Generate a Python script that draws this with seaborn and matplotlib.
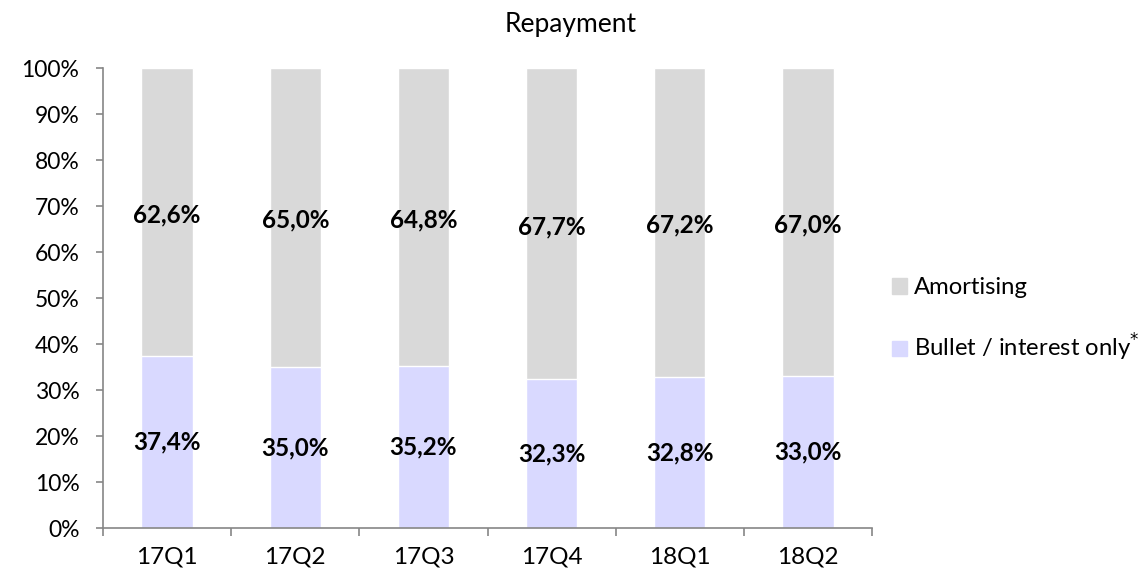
import pandas as pd
import numpy as np
import seaborn as sns
import matplotlib.pyplot as plt
from matplotlib.patches import Patch

quarters = ['17Q1', '17Q2', '17Q3', '17Q4', '18Q1', '18Q2']
bullet = [37.4, 35.0, 35.2, 32.3, 32.8, 33.0]
amortising = [62.6, 65.0, 64.8, 67.7, 67.2, 67.0]

sns.set_style('white')
plt.rcParams['font.family'] = ['Lato', 'DejaVu Sans']
plt.rcParams['text.color'] = 'black'

gray = '#d9d9d9'
lav = '#d9d9ff'
axis_col = '#868686'

df = pd.DataFrame({'quarter': quarters, 'bullet': bullet, 'amortising': amortising})
df['total'] = df['bullet'] + df['amortising']

fig = plt.figure(figsize=(11.45, 5.75), dpi=100)
ax = fig.add_axes([0.09, 0.0817, 0.6716, 0.80])

sns.barplot(data=df, x='quarter', y='total', color=gray, width=0.4, saturation=1, ax=ax)
sns.barplot(data=df, x='quarter', y='bullet', color=lav, width=0.4, saturation=1, ax=ax)

# labels in the middle of each segment
for i, row in df.iterrows():
    ax.text(i, row['bullet'] / 2, f"{row['bullet']:.1f}%".replace('.', ','),
            ha='center', va='center', fontsize=17.5, fontweight='bold', color='black')
    ax.text(i, row['bullet'] + row['amortising'] / 2 - 0.6,
            f"{row['amortising']:.1f}%".replace('.', ','),
            ha='center', va='center', fontsize=17.5, fontweight='bold', color='black')

ax.set_xlim(-0.5, len(quarters) - 0.5)
ax.set_ylim(0, 100)
ax.set_yticks(np.arange(0, 101, 10))
ax.set_yticklabels([f'{v}%' for v in range(0, 101, 10)])
ax.set_xlabel('')
ax.set_ylabel('')
fig.text(0.4985, 0.9443, 'Repayment', ha='center', va='baseline', fontsize=19, color='black')

ax.set_xticks(np.arange(-0.5, len(quarters), 1), minor=True)
ax.tick_params(axis='x', which='major', length=0, labelsize=17.5, pad=13, labelcolor='black')
ax.tick_params(axis='x', which='minor', length=6, width=1.2, color=axis_col,
               direction='out', bottom=True)
ax.tick_params(axis='y', length=5, width=1.2, color=axis_col, direction='out',
               labelsize=16.5, left=True, pad=12, labelcolor='black')

for s in ['top', 'right']:
    ax.spines[s].set_visible(False)
for s in ['left', 'bottom']:
    ax.spines[s].set_color(axis_col)
    ax.spines[s].set_linewidth(1.2)

handles = [Patch(color=gray, label='Amortising'),
           Patch(color=lav, label='Bullet / interest only$^{*}$')]
fig.legend(handles=handles, loc='center left', bbox_to_anchor=(0.779, 0.443),
           frameon=False, fontsize=17.2, handlelength=0.62, handleheight=0.62,
           handletextpad=0.3, labelspacing=1.4, borderpad=0, borderaxespad=0,
           labelcolor='black')

fig.savefig('out.png', dpi=100)
